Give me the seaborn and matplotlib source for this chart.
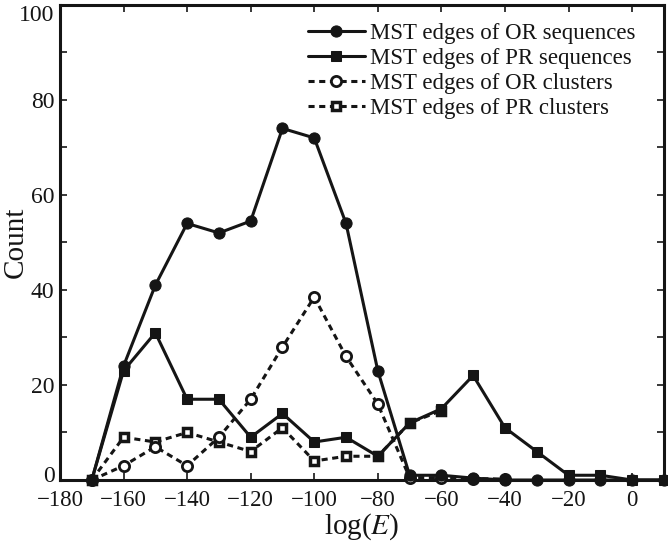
import matplotlib
matplotlib.use("Agg")
import matplotlib.pyplot as plt
import matplotlib.transforms as mtransforms
import seaborn as sns
import pandas as pd
from matplotlib.ticker import MultipleLocator

sns.set_theme(style="ticks")
plt.rcParams['font.family'] = ['Liberation Serif', 'DejaVu Serif']
plt.rcParams['mathtext.fontset'] = 'stix'

# Data
log_e = [-170, -160, -150, -140, -130, -120, -110, -100, -90, -80,
         -70, -60, -50, -40, -30, -20, -10, 0, 10]
or_seq = [0, 24, 41, 54, 52, 54.5, 74, 72, 54, 23,
          1, 1, 0.4, 0, 0, 0, 0, 0, 0]
pr_seq = [0, 23, 31, 17, 17, 9, 14, 8, 9, 5,
          12, 15, 22, 11, 6, 1, 1, 0, 0]
or_clu_x = [-170, -160, -150, -140, -130, -120, -110, -100, -90, -80, -70, -60, -50, -40]
or_clu = [0, 3, 7, 3, 9, 17, 28, 38.5, 26, 16, 0.5, 0.5, 0.3, 0.2]
pr_clu_x = [-170, -160, -150, -140, -130, -120, -110, -100, -90, -80, -70, -60]
pr_clu = [0, 9, 8, 10, 8, 6, 11, 4, 5, 5, 12, 14.6]

labels = ["MST edges of OR sequences", "MST edges of PR sequences",
          "MST edges of OR clusters", "MST edges of PR clusters"]

df_or = pd.DataFrame({"x": log_e, "y": or_seq})
df_pr = pd.DataFrame({"x": log_e, "y": pr_seq})
df_orc = pd.DataFrame({"x": or_clu_x, "y": or_clu})
df_prc = pd.DataFrame({"x": pr_clu_x, "y": pr_clu})

fig = plt.figure(figsize=(6.68, 5.43), dpi=100)
ax = fig.add_axes([0.0898, 0.116, 0.904, 0.875])

k = "#151515"
lw = 2.2
common = dict(ax=ax, color=k, linewidth=lw, clip_on=False)

sns.lineplot(data=df_prc, x="x", y="y", marker="s", markersize=7.5,
             markerfacecolor="white", markeredgecolor=k, markeredgewidth=2.5,
             linestyle=(0, (2.0, 1.5)), zorder=3, label=labels[3], **common)
sns.lineplot(data=df_orc, x="x", y="y", marker="o", markersize=10.5,
             markerfacecolor="white", markeredgecolor=k, markeredgewidth=2.0,
             linestyle=(0, (2.0, 1.5)), zorder=3, label=labels[2], **common)
sns.lineplot(data=df_pr, x="x", y="y", marker="s", markersize=9.5,
             markerfacecolor=k, markeredgecolor=k, linestyle="-",
             zorder=4, label=labels[1], **common)
sns.lineplot(data=df_or, x="x", y="y", marker="o", markersize=11.5,
             markerfacecolor=k, markeredgecolor=k, linestyle="-",
             zorder=5, label=labels[0], **common)

ax.set_xlim(-180, 10)
ax.set_ylim(0, 100)
ax.xaxis.set_major_locator(MultipleLocator(20))
ax.yaxis.set_major_locator(MultipleLocator(20))
ax.yaxis.set_minor_locator(MultipleLocator(10))
ax.tick_params(which="both", direction="in", top=True, right=True,
               length=5, width=1.2, color=k, labelcolor=k)
ax.tick_params(axis="x", labelsize=16.5, pad=7.5)
ax.tick_params(axis="y", labelsize=17, pad=4)
for s in ax.spines.values():
    s.set_linewidth(2.2)
    s.set_color(k)

fig.canvas.draw()
for t in ax.get_yticklabels():
    if t.get_text() == "100":
        t.set_verticalalignment("top")
        t.set_y(100.0)
    if t.get_text() == "0":
        t.set_transform(t.get_transform() +
                        mtransforms.ScaledTranslation(0, 4 / 72, fig.dpi_scale_trans))

ax.set_xlabel(r"log($E$)", fontsize=21, color=k, labelpad=0)
ax.set_ylabel("Count", fontsize=21, color=k)
ax.yaxis.set_label_coords(-0.052, 0.5)

h, l = ax.get_legend_handles_labels()
order = [l.index(t) for t in labels]
for hh in h:
    hh.set_markersize(hh.get_markersize() * 0.7)
leg = ax.legend([h[i] for i in order], [l[i] for i in order],
                loc="upper right", bbox_to_anchor=(0.975, 0.99), frameon=False,
                fontsize=16.5, handlelength=2.5, handletextpad=0.2,
                labelspacing=0.17, borderaxespad=0.2)
for t in leg.get_texts():
    t.set_color(k)

fig.savefig("out.png", dpi=100)
